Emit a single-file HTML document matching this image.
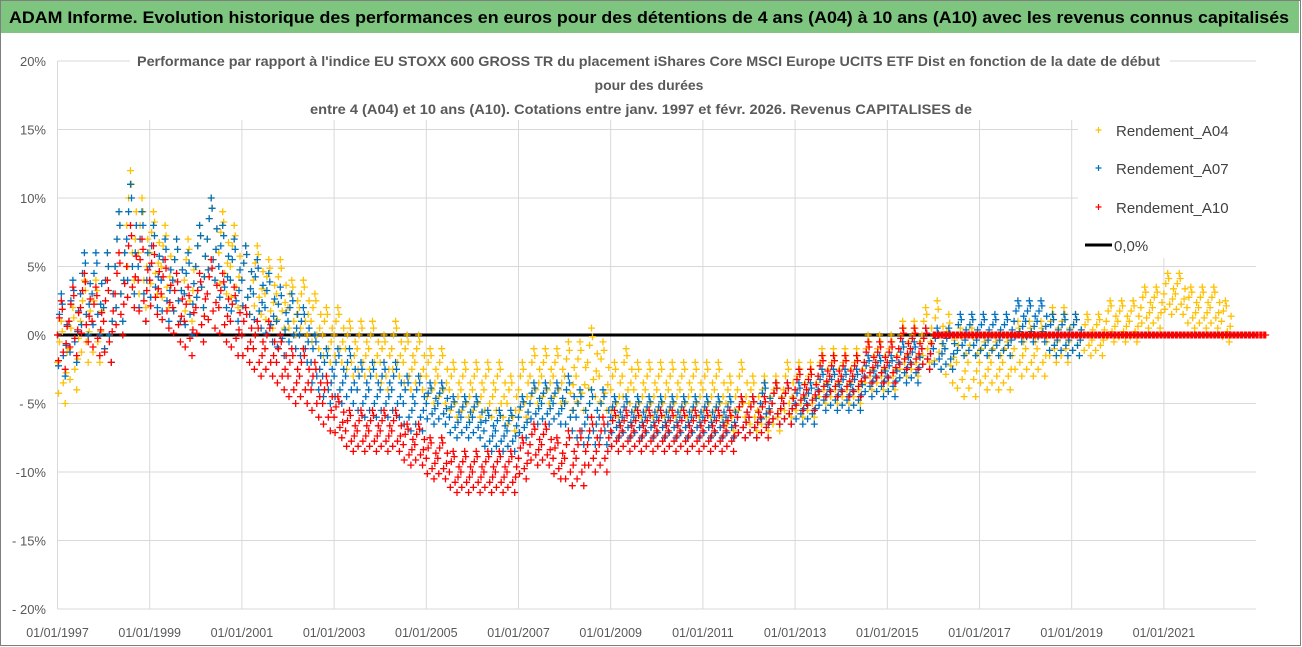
<!DOCTYPE html>
<html><head><meta charset="utf-8"><style>
html,body{margin:0;padding:0;background:#fff}
svg{display:block}
text{font-family:"Liberation Sans",sans-serif}
</style></head><body>
<svg id="chart" width="1302" height="647" viewBox="0 0 1302 647" xmlns="http://www.w3.org/2000/svg">
<rect x="0.5" y="0.5" width="1300" height="645" fill="#fff" stroke="#7f7f7f"/>
<rect x="1" y="1" width="1298" height="32" fill="#7ec67f"/>
<text x="9" y="23" font-size="17" font-weight="bold" fill="#000" textLength="1280" lengthAdjust="spacingAndGlyphs">ADAM Informe. Evolution historique des performances en euros pour des détentions de 4 ans (A04) à 10 ans (A10) avec les revenus connus capitalisés</text>
<g id="grid"></g>
<g id="yticks"></g>
<g id="xticks"></g>
<rect x="130" y="44" width="1040" height="76" fill="#fff"/>
<text x="137" y="66" font-size="14" font-weight="bold" fill="#595959" textLength="1023" lengthAdjust="spacingAndGlyphs">Performance par rapport à l'indice EU STOXX 600 GROSS TR  du placement iShares Core MSCI Europe UCITS ETF Dist en fonction de la date de début</text>
<text x="649" y="90" font-size="14" font-weight="bold" fill="#595959" text-anchor="middle">pour des durées</text>
<text x="310" y="114" font-size="14" font-weight="bold" fill="#595959" textLength="662" lengthAdjust="spacingAndGlyphs">entre 4 (A04) et 10 ans (A10).  Cotations entre janv. 1997 et févr. 2026. Revenus CAPITALISES de</text>
<g id="points"></g>
<g id="legend">
<rect x="1078" y="118" width="180" height="140" fill="#fff"/>
<g><path d="M1095.5 130h6M1098.5 127v6" stroke="#ffc000" stroke-width="1.2"/><text x="1116" y="136" font-size="15" fill="#404040">Rendement_A04</text></g>
<g><path d="M1095.5 168h6M1098.5 165v6" stroke="#0070c0" stroke-width="1.2"/><text x="1116" y="174" font-size="15" fill="#404040">Rendement_A07</text></g>
<g><path d="M1095.5 207h6M1098.5 204v6" stroke="#ff0000" stroke-width="1.2"/><text x="1116" y="213" font-size="15" fill="#404040">Rendement_A10</text></g>
<g><path d="M1085 245h27" stroke="#000" stroke-width="3"/><text x="1114" y="251" font-size="15" fill="#404040">0,0%</text></g>
</g>
</svg>
<script>
const yTicks=[20,15,10,5,0,-5,-10,-15,-20];
const yTickLabels=["20%","15%","10%","5%","0%","- 5%","-10%","- 15%","- 20%"];
const xTickYears=[1997,1999,2001,2003,2005,2007,2009,2011,2013,2015,2017,2019,2021];
const xTickLabels=["01/01/1997","01/01/1999","01/01/2001","01/01/2003","01/01/2005","01/01/2007","01/01/2009","01/01/2011","01/01/2013","01/01/2015","01/01/2017","01/01/2019","01/01/2021"];
const startYear=1997;
// quarterly center values (%), starting 1997 Q1
const a04=[-2,-1,1,1, 2,5,8,6, 6,5,4,4, 5,7,6,5, 4,4,3,3, 2,2,1,0, 0,-1,-1,-1, -2,-1,-2,-2, -3,-3,-4,-4, -4,-4,-4,-5, -4,-3,-3,-3, -3,-3,-2,-3, -4,-3,-4,-4, -4,-4,-4,-4, -4,-4,-5,-4, -5,-5,-5,-4, -4,-4,-3,-3, -3,-3,-2,-2, -2,-1,-1,0, 0,-1,-2,-2, -2,-2,-2,-1, -1,-1,0,0, 0,0,0,1, 1,1,2,2, 3,3,2,2, 2,1];
const a07=[0,1,3,3, 2,5,7,5, 5,4,4,3, 5,7,5,4, 4,3,2,1, 1,0,-2,-3, -3,-3,-4,-4, -4,-4,-5,-5, -5,-5,-6,-6, -6,-7,-7,-7, -6,-5,-5,-5, -5,-6,-6,-6, -6,-6,-6,-6, -6,-6,-6,-6, -6,-6,-6,-6, -6,-5,-5,-5, -5,-5,-4,-4, -4,-4,-3,-3, -3,-2,-2,-1, -1,-1,0,0, 0,0,0,1, 1,1,0,0, 0];
const a10=[0,1,2,1, 1,3,5,4, 4,3,2,1, 2,3,2,1, 0,-1,-1,-2, -3,-3,-4,-5, -6,-7,-7,-7, -7,-7,-8,-8, -9,-9,-10,-10, -10,-10,-10,-10, -9,-8,-8,-9, -9,-9,-8,-8, -7,-7,-7,-7, -7,-7,-7,-7, -7,-7,-7,-6, -6,-6,-5,-5, -4,-4,-3,-3, -3,-3,-2,-2, -2,-1,-1,-1, 0,0,0,0, 0,0,0,0, 0,0,0,0, 0,0,0,0, 0,0,0,0, 0,0,0,0, 0,0,0,0, 0];
// yearly half-spread of the scatter (%), starting 1997
const a04Spread=[3,4,3,3,2.5,2,2,2,2,2,2,2.5,2,2,2,2,2,2,2,2.5,2,2,1.5,1.5,1.5,1.5];
const a07Spread=[3,4,3,3,2.5,2,2,2,1.5,1.5,1.5,2,1.5,1.5,1.5,1.5,1.5,1.5,1.5,1.5,1.5,1.5,1.5];
const a10Spread=[2.5,3,2.5,2.5,2,2,1.5,1.5,1.5,1.5,1.5,2,1.5,1.5,1.5,1.5,1.5,1.5,1.5,0,0,0,0,0,0,0,0];

const X0=57.5,PXY=46.1,Y0=335,PXP=13.7,XR=1256;
const xs=t=>X0+(t-startYear)*PXY;
const ys=v=>Y0-v*PXP;
const NS="http://www.w3.org/2000/svg";
function mk(tag,attrs,parent){const e=document.createElementNS(NS,tag);for(const k in attrs)e.setAttribute(k,attrs[k]);parent.appendChild(e);return e;}

const grid=document.getElementById('grid');
yTicks.forEach((v,i)=>{
  const l=mk('line',{x1:X0,x2:XR,y1:ys(v),y2:ys(v),stroke:'#d9d9d9','stroke-width':1},grid);
  
  
  const t=mk('text',{x:46,y:ys(v)+5,'font-size':13,fill:'#595959','text-anchor':'end'},document.getElementById('yticks'));
  t.textContent=yTickLabels[i];
  
  
});
xTickYears.forEach((yr,i)=>{
  const l=mk('line',{x1:xs(yr),x2:xs(yr),y1:ys(20),y2:ys(-20),stroke:'#d9d9d9','stroke-width':1},grid);
  
  
  const t=mk('text',{x:xs(yr),y:637,'font-size':12.5,fill:'#595959','text-anchor':'middle'},document.getElementById('xticks'));
  t.textContent=xTickLabels[i];
  
  
});

const pts=document.getElementById('points');
const zl=mk('line',{x1:X0,x2:XR,y1:ys(0),y2:ys(0),stroke:'#000','stroke-width':3},pts);



// sample positions within each quarter: [month offset, fraction of spread]
const offs=[[0,0],[0.5,0.5],[1,1],[1.5,-0.5],[2,-1],[2.5,0.25],[0.25,-0.75],[1.25,0.75],[2.25,-0.25]];
function series(vals,spread,color,name){
  const g=mk('g',{stroke:color,'stroke-width':1.3,fill:'none'},pts);
  
  
  let d='';
  vals.forEach((v,i)=>{
    const t=startYear+i/4;
    const s=spread[Math.floor(i/4)]||0;
    offs.forEach(([m,f])=>{
      const x=xs(t+m/12),y=ys(v+f*s);
      d+=`M${(x-3.5).toFixed(1)} ${y.toFixed(1)}h7M${x.toFixed(1)} ${(y-3.5).toFixed(1)}v7`;
    });
  });
  mk('path',{d:d},g);
}
series(a04,a04Spread,'#ffc000','series-a04');
series(a07,a07Spread,'#0070c0','series-a07');
series(a10,a10Spread,'#ff0000','series-a10');
</script>
</body></html>
